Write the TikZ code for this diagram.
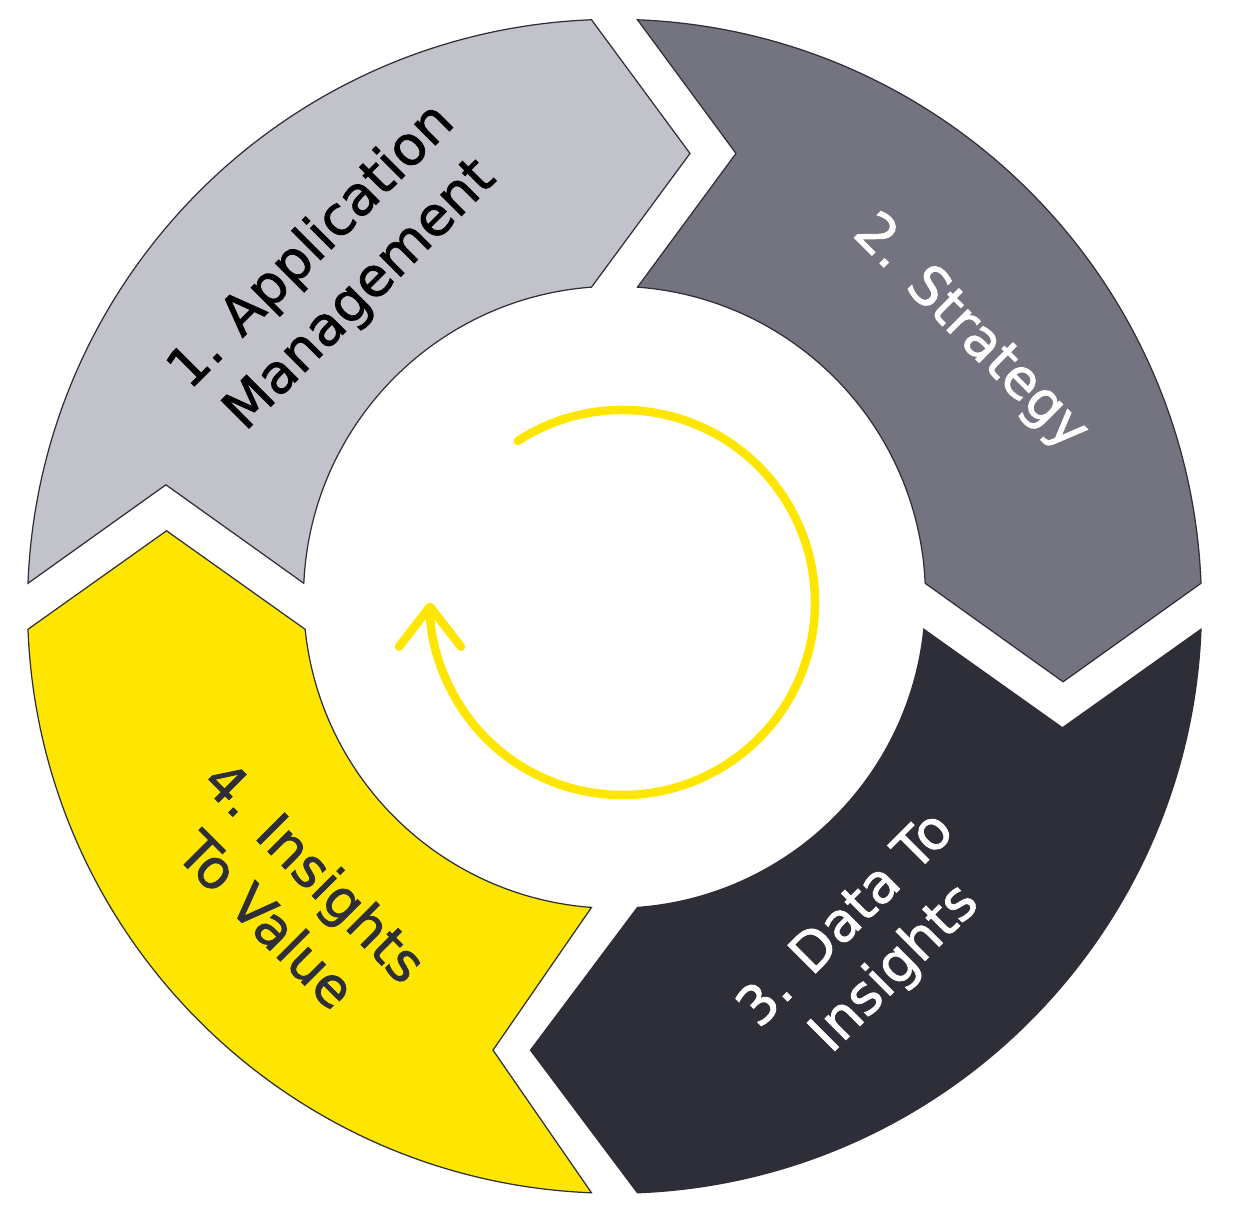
\documentclass[tikz,border=0pt]{standalone}
\usepackage{fontspec}
\setmainfont{DejaVu Sans}[FakeBold=1.5]
\usetikzlibrary{arrows.meta}
\definecolor{eylight}{HTML}{C2C3CA}
\definecolor{eymid}{HTML}{747380}
\definecolor{eydark}{HTML}{2E2E38}
\definecolor{eyyellow}{HTML}{FFE600}

\begin{document}
\begin{tikzpicture}[
            x=0.1mm, y=0.1mm,
            seg/.style={draw=eydark, line width=0.35pt},
            lbl/.style={font=\fontsize{15.4}{19.5}\selectfont, align=center, inner sep=0pt},
            cycle arrow/.style={draw=eyyellow, line width=0.85mm, line cap=round,
                -{Straight Barb[length=4mm, width=6.2mm, round]}}
        ]
            \useasboundingbox (-614.5,-613.7) rectangle (618.5,606.3);

            \path[seg, fill=eylight] (177.755:587) arc[start angle=177.755, end angle=92.245, radius=587]
                -- (75.5,452.85) -- (-23,319.15) arc[start angle=94.241, end angle=177.42, radius=311]
                -- (-448.6,121.5) -- cycle;
            \path[seg, fill=eymid] (87.755:587) arc[start angle=87.755, end angle=2.245, radius=587]
                -- (448.6,-75.5) -- (310.68,23) arc[start angle=2.58, end angle=85.759, radius=311]
                -- (121.5,452.85) -- cycle;
            \path[seg, fill=eydark] (-2.245:587) arc[start angle=-2.245, end angle=-87.755, radius=587]
                -- (-84,-443.85) -- (23,-301.15) arc[start angle=-85.759, end angle=-5.906, radius=311]
                -- (447.95,-121.5) -- cycle;
            \path[seg, fill=eyyellow] (-92.245:587) arc[start angle=-92.245, end angle=-177.755, radius=587]
                -- (-447.95,75.5) -- (-309.35,-23) arc[start angle=185.906, end angle=265.759, radius=311]
                -- (-121.5,-443.85) -- cycle;

            \node[lbl, text=black, rotate=45] (appmgmt) at (-278,335) {1. Application\\Management};
            \node[lbl, text=white, rotate=-45] (strategy) at (355.5,273.3) {2. Strategy};
            \node[lbl, text=white, rotate=45] (datains) at (257,-339) {3. Data To\\Insights};
            \node[lbl, text=eydark, rotate=-45] (insval) at (-323,-289) {4. Insights\\To Value};

            \coordinate (hub) at (8,3.8);
            \draw[cycle arrow] ([shift={(123:192.5)}]hub) arc[start angle=123, end angle=-180, radius=192.5];
        \end{tikzpicture}
\end{document}
